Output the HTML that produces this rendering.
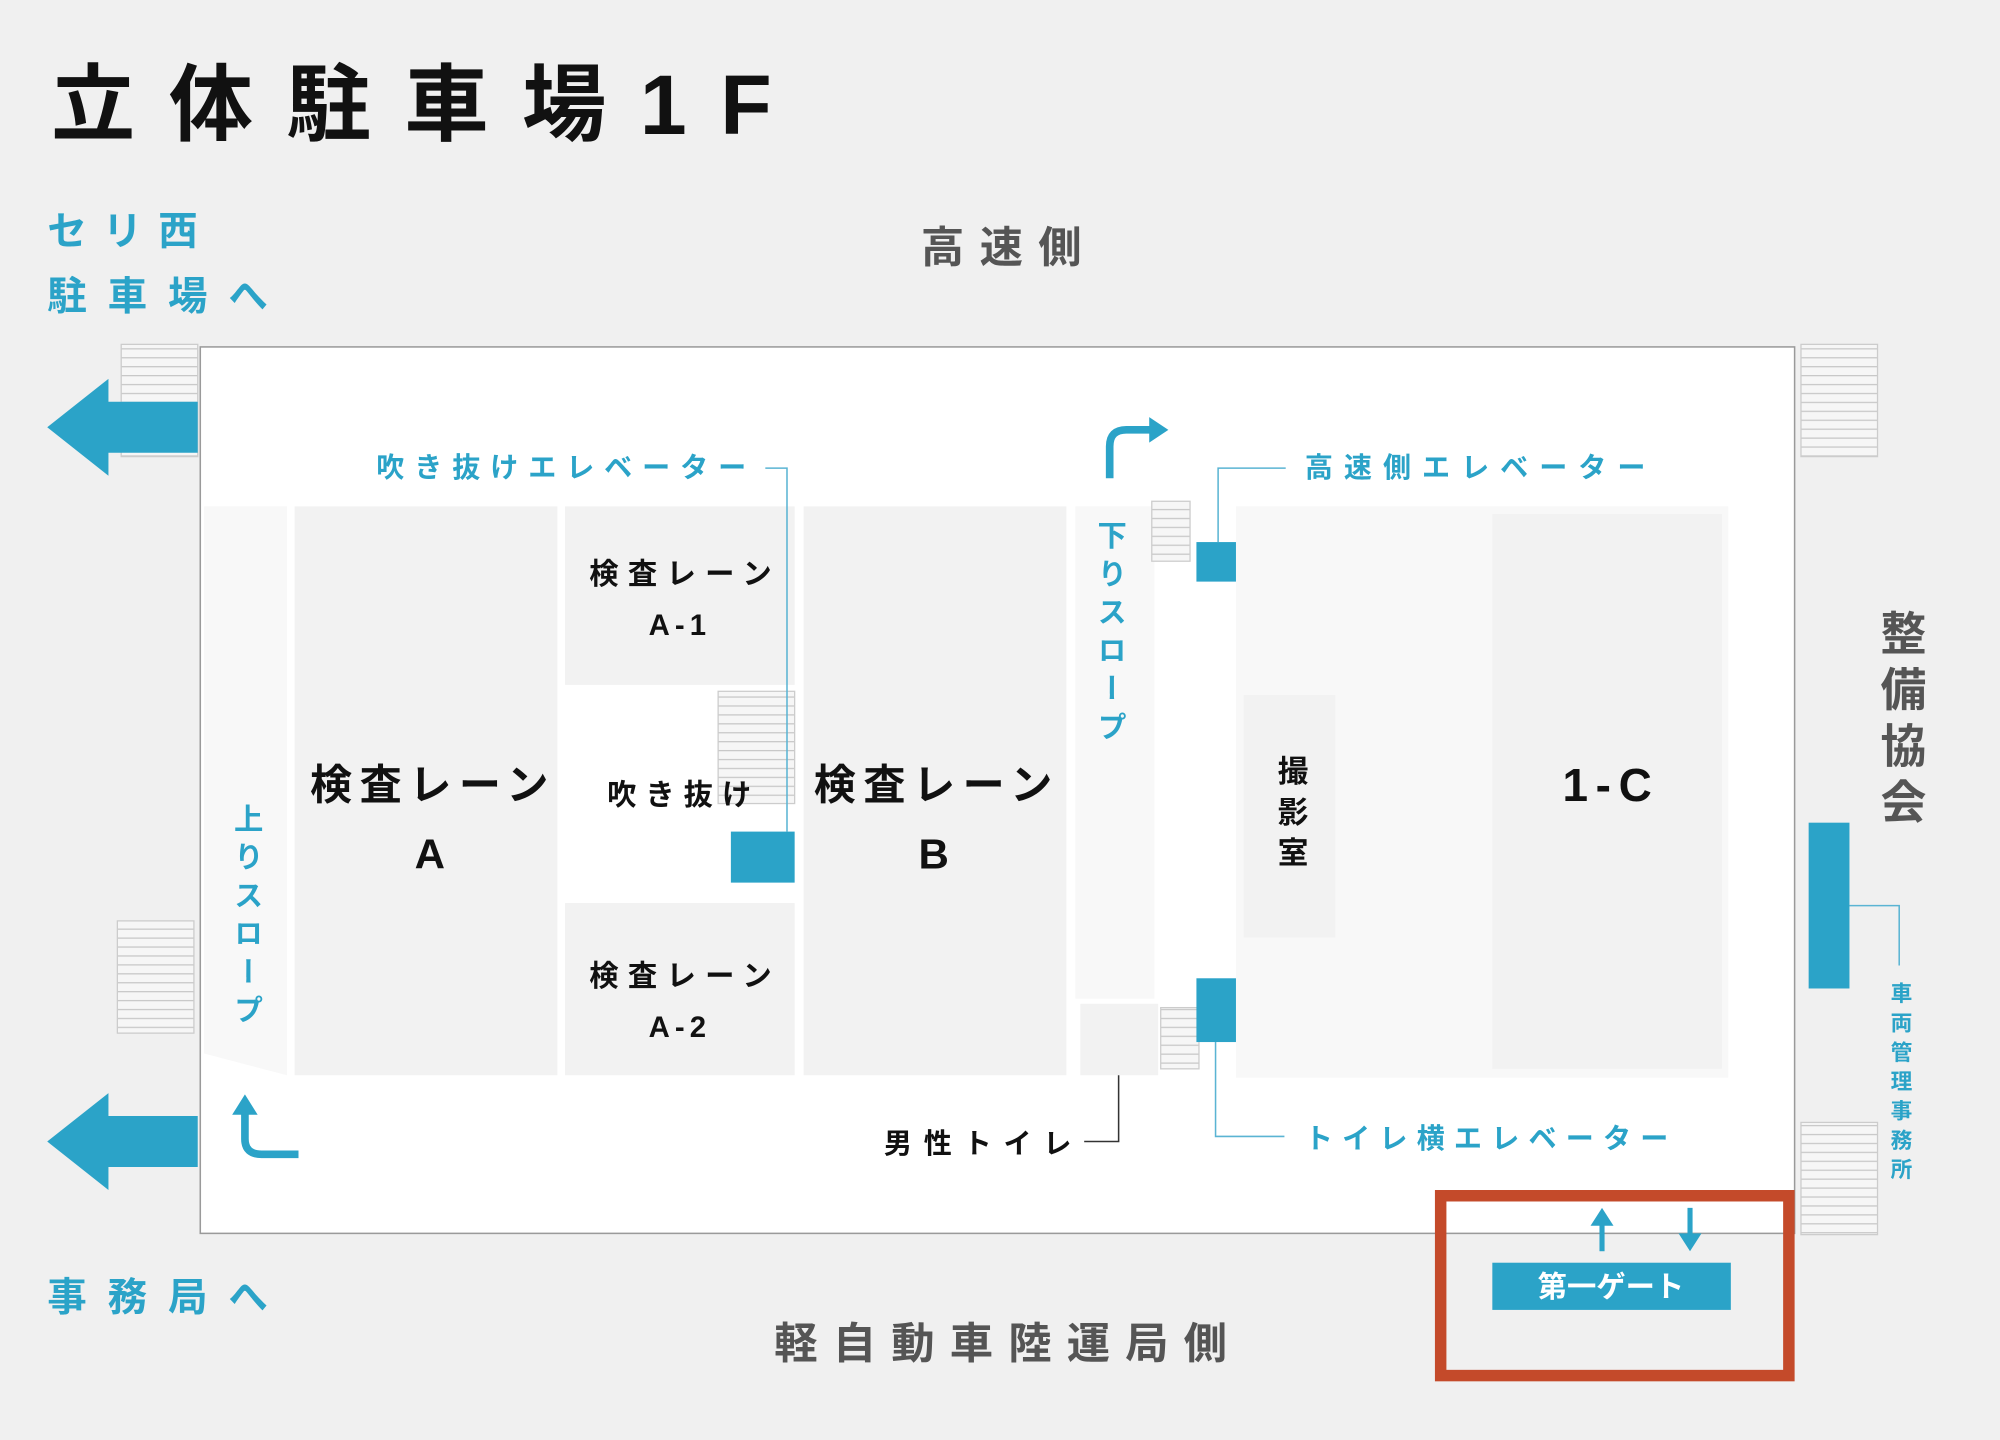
<!DOCTYPE html>
<html><head><meta charset="utf-8"><style>
html,body{margin:0;padding:0;background:#f0f0f0;}
svg{display:block;}
text{font-family:"Liberation Sans","Noto Sans CJK JP",sans-serif;font-weight:bold;}
.v{writing-mode:vertical-rl;}
</style></head><body>
<svg width="2000" height="1440" viewBox="0 0 1568 1129" xmlns="http://www.w3.org/2000/svg">
<defs>
<pattern id="h" width="10" height="7" patternUnits="userSpaceOnUse"><rect width="10" height="7" fill="#f6f6f6"/><line x1="0" y1="0.5" x2="10" y2="0.5" stroke="#c8c8c8" stroke-width="1"/></pattern>
</defs>
<rect width="1568" height="1129" fill="#f0f0f0"/>
<text x="40" y="105" font-size="66" textLength="565" lengthAdjust="spacing" fill="#111">立体駐車場1F</text>
<text x="37" y="192" font-size="31" textLength="118" fill="#2ba3c8">セリ西</text>
<text x="37" y="243" font-size="31" textLength="173" fill="#2ba3c8">駐車場へ</text>
<text x="722" y="206" font-size="34" textLength="126" fill="#555">高速側</text>
<text x="37" y="1028" font-size="31" textLength="173" fill="#2ba3c8">事務局へ</text>
<text x="607" y="1065" font-size="34" textLength="355" fill="#555">軽自動車陸運局側</text>

<rect x="95" y="270" width="60" height="88" fill="url(#h)" stroke="#ccc"/>
<rect x="92" y="722" width="60" height="88" fill="url(#h)" stroke="#ccc"/>
<rect x="1412" y="270" width="60" height="88" fill="url(#h)" stroke="#ccc"/>
<rect x="1412" y="880" width="60" height="88" fill="url(#h)" stroke="#ccc"/>

<rect x="157" y="272" width="1250" height="695" fill="#fff" stroke="#9a9a9a" stroke-width="1.2"/>
<polygon points="37,335 85,297 85,315 155,315 155,355 85,355 85,373" fill="#2ba3c8"/>
<polygon points="37,895 85,857 85,875 155,875 155,915 85,915 85,933" fill="#2ba3c8"/>

<polygon points="160,397 225,397 225,843 160,826" fill="#f8f8f8"/>
<rect x="231" y="397" width="206" height="446" fill="#f2f2f2"/>
<rect x="443" y="397" width="180" height="140" fill="#f2f2f2"/>
<rect x="443" y="708" width="180" height="135" fill="#f2f2f2"/>
<rect x="630" y="397" width="206" height="446" fill="#f2f2f2"/>
<rect x="843" y="397" width="62" height="386" fill="#f8f8f8"/>
<rect x="847" y="787" width="61" height="56" fill="#f2f2f2"/>
<rect x="969" y="397" width="386" height="448" fill="#f8f8f8"/>
<rect x="975" y="545" width="72" height="190" fill="#f2f2f2"/>
<rect x="1170" y="403" width="180" height="435" fill="#f2f2f2"/>

<rect x="563" y="542" width="60" height="88" fill="url(#h)" stroke="#ccc"/>
<rect x="903" y="393" width="30" height="47" fill="url(#h)" stroke="#ccc"/>
<rect x="910" y="790" width="30" height="48" fill="url(#h)" stroke="#ccc"/>

<rect x="573" y="652" width="50" height="40" fill="#2ba3c8"/>
<rect x="938" y="425" width="31" height="31" fill="#2ba3c8"/>
<rect x="938" y="767" width="31" height="50" fill="#2ba3c8"/>
<rect x="1418" y="645" width="32" height="130" fill="#2ba3c8"/>

<g fill="none" stroke-width="1.2">
<polyline points="600,367 617,367 617,652" stroke="#5ab4d3"/>
<polyline points="1008,367 955,367 955,425" stroke="#5ab4d3"/>
<polyline points="1007,891 953,891 953,817" stroke="#5ab4d3"/>
<polyline points="850,895 877,895 877,843" stroke="#333"/>
<polyline points="1450,710 1489,710 1489,757" stroke="#5ab4d3"/>
</g>

<path d="M870,375 V350 Q870,337 883,337 H903" fill="none" stroke="#2ba3c8" stroke-width="6"/>
<polygon points="901,327 916,337 901,347" fill="#2ba3c8"/>
<path d="M192,872 V893 Q192,905 205,905 H234" fill="none" stroke="#2ba3c8" stroke-width="6"/>
<polygon points="182,874 192,858 202,874" fill="#2ba3c8"/>

<text x="295" y="374" font-size="22" textLength="290" fill="#2ba3c8">吹き抜けエレベーター</text>
<text x="1023" y="374" font-size="22" textLength="267" fill="#2ba3c8">高速側エレベーター</text>
<text x="1023" y="900" font-size="22" textLength="285" fill="#2ba3c8">トイレ横エレベーター</text>
<text x="693" y="904" font-size="22" textLength="147" fill="#111">男性トイレ</text>

<text x="462" y="458" font-size="23" textLength="143" fill="#111">検査レーン</text>
<text x="533" y="498" font-size="23" text-anchor="middle" fill="#111" letter-spacing="4">A-1</text>
<text x="476" y="631" font-size="23" textLength="113" fill="#111">吹き抜け</text>
<text x="462" y="773" font-size="23" textLength="143" fill="#111">検査レーン</text>
<text x="533" y="813" font-size="23" text-anchor="middle" fill="#111" letter-spacing="4">A-2</text>

<text x="243" y="627" font-size="33" textLength="187" fill="#111">検査レーン</text>
<text x="337" y="681" font-size="33" text-anchor="middle" fill="#111">A</text>
<text x="638" y="627" font-size="33" textLength="187" fill="#111">検査レーン</text>
<text x="732" y="681" font-size="33" text-anchor="middle" fill="#111">B</text>
<text x="1263" y="628" font-size="36" text-anchor="middle" fill="#111" letter-spacing="6">1-C</text>

<text x="1011" y="592" font-size="24" class="v" fill="#111" letter-spacing="8">撮影室</text>
<text x="870" y="408" font-size="23" class="v" fill="#2ba3c8" letter-spacing="7">下りスロープ</text>
<text x="193" y="630" font-size="23" class="v" fill="#2ba3c8" letter-spacing="7">上りスロープ</text>
<text x="1490" y="478" font-size="36" class="v" fill="#555" letter-spacing="8">整備協会</text>
<text x="1490" y="770" font-size="17" class="v" fill="#2ba3c8" letter-spacing="6">車両管理事務所</text>

<rect x="1129.5" y="937.5" width="273" height="141" fill="none" stroke="#c44a2a" stroke-width="9"/>
<rect x="1170" y="990" width="187" height="37" fill="#2ba3c8"/>
<text x="1263" y="1017" font-size="23" text-anchor="middle" fill="#fff">第一ゲート</text>
<line x1="1256" y1="958" x2="1256" y2="981" stroke="#2ba3c8" stroke-width="4"/>
<polygon points="1247,961 1256,947 1265,961" fill="#2ba3c8"/>
<line x1="1325" y1="947" x2="1325" y2="970" stroke="#2ba3c8" stroke-width="4"/>
<polygon points="1316,967 1325,981 1334,967" fill="#2ba3c8"/>
</svg>
</body></html>
